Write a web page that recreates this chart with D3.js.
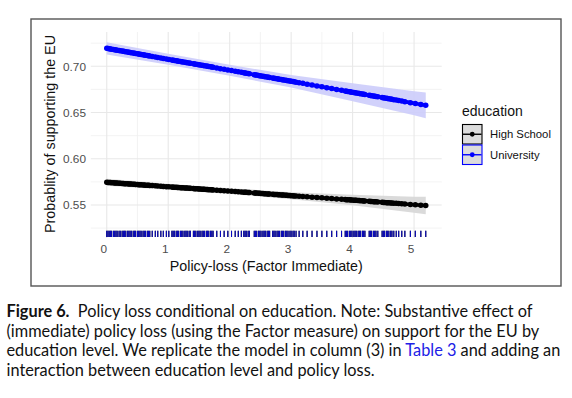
<!DOCTYPE html>
<html><head><meta charset="utf-8">
<script src="https://cdn.jsdelivr.net/npm/d3@7"></script>
<style>
html,body{margin:0;padding:0;background:#fff;}
svg{display:block;}
</style></head>
<body>
<svg id="chart" width="572" height="398"></svg>
<script>
// ---- data ----
// observed policy-loss (Factor Immediate) values (rug / points)
const policyLoss = [
  0.00,0.02,0.04,0.06,0.08,0.11,0.13,0.15,0.17,0.20,0.22,0.25,0.27,0.29,0.31,0.34,0.36,0.38,0.40,0.43,
  0.45,0.47,0.50,0.52,0.54,0.56,0.59,0.61,0.63,0.66,0.68,0.70,
  0.74,0.79,0.83,0.88,0.92,0.97,1.01,
  1.06,1.08,1.10,1.13,1.15,1.17,1.20,1.22,1.24,1.27,1.29,1.31,1.34,1.36,
  1.41,1.43,1.45,1.48,1.50,1.52,1.55,1.57,1.59,1.62,1.64,1.66,1.69,1.71,1.73,
  1.79,1.85,1.91,1.97,2.03,2.09,2.14,2.19,
  2.23,2.25,2.27,2.30,2.32,2.40,2.42,2.44,2.47,2.49,2.51,2.54,2.56,2.58,2.61,2.63,2.65,
  2.70,2.72,2.74,2.77,2.79,2.81,2.84,2.86,2.88,2.91,2.93,2.95,2.98,3.00,3.03,3.05,3.08,3.13,3.19,
  3.26,3.34,3.42,3.50,3.58,3.66,3.74,3.82,
  3.88,3.90,3.92,3.95,3.97,3.99,4.02,4.04,4.06,4.09,4.11,4.13,4.16,4.18,4.20,
  4.27,4.29,4.31,4.34,4.36,4.38,4.41,
  4.48,4.50,4.52,4.55,4.57,4.59,4.62,4.64,4.67,4.71,4.75,4.80,4.85,
  4.94,5.02,5.11,5.19
];
// predicted probabilities read at these policy-loss values
const predX     = [0, 1, 2, 3, 4, 5, 5.19];
const hsFit     = [0.5745, 0.5697, 0.5650, 0.5601, 0.5553, 0.5503, 0.5494];
const hsLo      = [0.5707, 0.5664, 0.5618, 0.5563, 0.5496, 0.5416, 0.5399];
const hsHi      = [0.5783, 0.5730, 0.5682, 0.5639, 0.5610, 0.5590, 0.5589];
const uniFit    = [0.7195, 0.7076, 0.6957, 0.6838, 0.6719, 0.6600, 0.6578];
const uniLo     = [0.7129, 0.7016, 0.6898, 0.6770, 0.6622, 0.6470, 0.6438];
const uniHi     = [0.7261, 0.7136, 0.7016, 0.6906, 0.6816, 0.6730, 0.6718];
const seriesNames = ["High School", "University"];
const xTicks = [0, 1, 2, 3, 4, 5];
const xMinor = [0.5, 1.5, 2.5, 3.5, 4.5];
const yTicks = [0.55, 0.60, 0.65, 0.70];
const yMinor = [0.525, 0.575, 0.625, 0.675, 0.725];
const xTitle = "Policy-loss (Factor Immediate)";
const yTitle = "Probablity of supporting the EU";
const legendTitle = "education";
const captionLines = [
  [{t:"Figure 6.", b:true}, {t:"  Policy loss conditional on education. Note: Substantive effect of"}],
  [{t:"(immediate) policy loss (using the Factor measure) on support for the EU by"}],
  [{t:"education level. We replicate the model in column (3) in "}, {t:"Table 3", link:true}, {t:" and adding an"}],
  [{t:"interaction between education level and policy loss."}]
];

// ---- drawing ----
const svg = d3.select("#chart");
svg.append("rect").attr("width",572).attr("height",398).attr("fill","#fff");

const panel = {l:90.8, r:441.7, t:32, b:238};
const pad = 0.05*(d3.max(policyLoss)-d3.min(policyLoss));
const x = d3.scaleLinear().domain([d3.min(policyLoss)-pad, d3.max(policyLoss)+pad]).range([panel.l, panel.r]);
const y = d3.scaleLinear().domain([0.5143, 0.7371]).range([panel.b, panel.t]);

// frame
svg.append("rect").attr("x",31).attr("y",19).attr("width",530).attr("height",267)
  .attr("fill","none").attr("stroke","#555").attr("stroke-width",1.4);

const grid = svg.append("g");
grid.selectAll("line.ymin").data(yMinor).join("line")
  .attr("x1",panel.l).attr("x2",panel.r).attr("y1",d=>y(d)).attr("y2",d=>y(d))
  .attr("stroke","#f0f0f0").attr("stroke-width",0.8);
grid.selectAll("line.xmin").data(xMinor).join("line")
  .attr("y1",panel.t).attr("y2",panel.b).attr("x1",d=>x(d)).attr("x2",d=>x(d))
  .attr("stroke","#f0f0f0").attr("stroke-width",0.8);
grid.selectAll("line.ymaj").data(yTicks).join("line")
  .attr("x1",panel.l).attr("x2",panel.r).attr("y1",d=>y(d)).attr("y2",d=>y(d))
  .attr("stroke","#e8e8e8").attr("stroke-width",1.1);
grid.selectAll("line.xmaj").data(xTicks).join("line")
  .attr("y1",panel.t).attr("y2",panel.b).attr("x1",d=>x(d)).attr("x2",d=>x(d))
  .attr("stroke","#e8e8e8").attr("stroke-width",1.1);

// axes text
const xAxis = d3.axisBottom(x).tickValues(xTicks).tickSize(0).tickPadding(0).tickFormat(d3.format("d"));
const gx = svg.append("g").attr("transform",`translate(0,${panel.b})`).call(xAxis);
gx.select(".domain").remove();
gx.selectAll("text").attr("dy",null).attr("y",11.3).attr("dx",-3.5).attr("dominant-baseline","central")
  .attr("font-family","'Liberation Sans', Arial, sans-serif").attr("font-size",11.8).attr("fill","#4d4d4d");

const yAxis = d3.axisLeft(y).tickValues(yTicks).tickSize(0).tickPadding(0).tickFormat(d3.format(".2f"));
const gy = svg.append("g").attr("transform",`translate(86,0)`).call(yAxis);
gy.select(".domain").remove();
gy.selectAll("text").attr("dy",null).attr("x",0).attr("dominant-baseline","central")
  .attr("font-family","'Liberation Sans', Arial, sans-serif").attr("font-size",11.8).attr("fill","#4d4d4d");

svg.append("text").attr("x",(panel.l+panel.r)/2).attr("y",266).attr("text-anchor","middle")
  .attr("dominant-baseline","central").attr("font-family","'Liberation Sans', Arial, sans-serif")
  .attr("font-size",14.3).attr("fill","#111").text(xTitle);
svg.append("text").attr("transform",`translate(49.5,${(panel.t+panel.b)/2 - 1}) rotate(-90)`)
  .attr("text-anchor","middle").attr("dominant-baseline","central")
  .attr("font-family","'Liberation Sans', Arial, sans-serif").attr("font-size",14.3).attr("fill","#111").text(yTitle);

// ribbons
const series = [
  {name:seriesNames[0], fit:hsFit, lo:hsLo, hi:hsHi, col:"#000000", band:"#d6d6d6"},
  {name:seriesNames[1], fit:uniFit, lo:uniLo, hi:uniHi, col:"#0000ff", band:"#ccccfb"}
];
const area = d3.area().x(d=>x(d.x)).y0(d=>y(d.lo)).y1(d=>y(d.hi));
series.forEach(s=>{
  const pts = predX.map((v,i)=>({x:v, lo:s.lo[i], hi:s.hi[i]}));
  svg.append("path").attr("d",area(pts)).attr("fill",s.band).attr("opacity",0.9);
});
series.forEach(s=>{
  const fitScale = d3.scaleLinear().domain(predX).range(s.fit);
  const line = d3.line().x(d=>x(d)).y(d=>y(fitScale(d)));
  svg.append("path").attr("d",line(policyLoss)).attr("fill","none").attr("stroke",s.col).attr("stroke-width",3.6);
  svg.append("g").selectAll("circle").data(policyLoss).join("circle")
    .attr("cx",d=>x(d)).attr("cy",d=>y(fitScale(d))).attr("r",2.75).attr("fill",s.col);
});

// rug (both groups drawn; university on top)
const rugLen = 0.03*(panel.b-panel.t);
[["#000000",1.1],["#0a0ac8",1]].forEach(([c,w])=>{
  svg.append("g").selectAll("line").data(policyLoss).join("line")
    .attr("x1",d=>x(d)).attr("x2",d=>x(d)).attr("y1",panel.b-1-rugLen).attr("y2",panel.b-1)
    .attr("stroke",c).attr("stroke-width",w);
});

// legend
const lg = svg.append("g");
lg.append("text").attr("x",462).attr("y",111).attr("dominant-baseline","central")
  .attr("font-family","'Liberation Sans', Arial, sans-serif").attr("font-size",14).attr("fill","#111").text(legendTitle);
series.forEach((s,i)=>{
  const ky = 124.5 + i*20.5;
  lg.append("rect").attr("x",462.5).attr("y",ky).attr("width",19.5).attr("height",19.5)
    .attr("fill","#dcdcdc").attr("stroke",s.col).attr("stroke-width",1.1);
  lg.append("line").attr("x1",463).attr("x2",481.5).attr("y1",ky+9.75).attr("y2",ky+9.75)
    .attr("stroke",s.col).attr("stroke-width",1.4);
  lg.append("circle").attr("cx",472.25).attr("cy",ky+9.75).attr("r",2.4).attr("fill",s.col);
  lg.append("text").attr("x",490).attr("y",ky+9.9).attr("dominant-baseline","central")
    .attr("font-family","'Liberation Sans', Arial, sans-serif").attr("font-size",11.3).attr("fill","#111").text(s.name);
});

// caption
const cap = svg.append("g").attr("font-family","Lato, 'Open Sans', sans-serif").attr("fill","#111");
const capTexts = captionLines.map((parts,i)=>{
  const t = cap.append("text").attr("x",6.5).attr("y",317 + i*19.6).attr("font-size",15).attr("xml:space","preserve");
  parts.forEach(p=>{
    t.append("tspan").text(p.t)
      .attr("font-weight",p.b?"bold":null)
      .attr("fill",p.link?"#2020e6":null);
  });
  return t;
});
const w3 = capTexts[2].node().getComputedTextLength();
const fs = 15*554/w3;
capTexts.forEach(t=>t.attr("font-size",fs));
</script>
</body></html>
